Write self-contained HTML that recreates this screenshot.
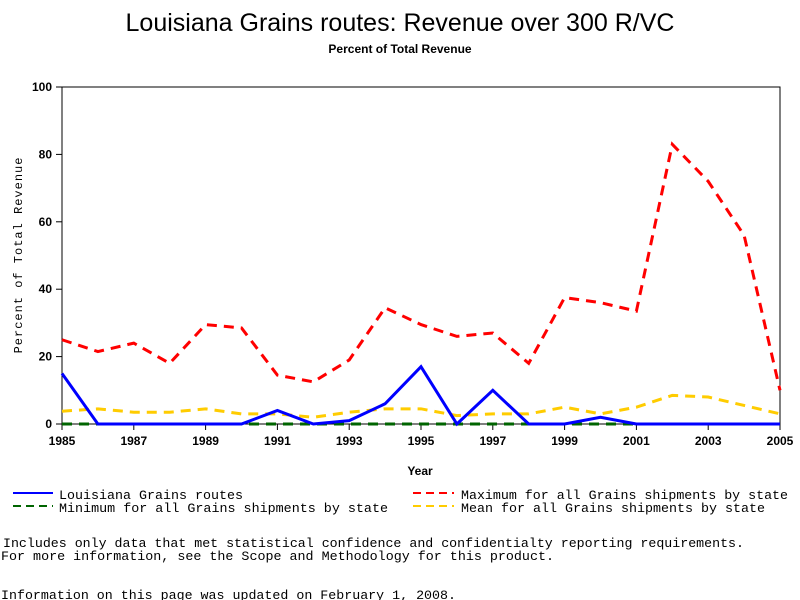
<!DOCTYPE html>
<html><head><meta charset="utf-8"><style>
body{margin:0;background:#fff;width:800px;height:600px;overflow:hidden}
svg{display:block}
text{fill:#000}
.m{font-family:"Liberation Mono",monospace;font-size:13px}
</style></head><body>
<svg id="chart" width="800" height="600" xmlns="http://www.w3.org/2000/svg">
<text x="400" y="31" text-anchor="middle" font-family="Liberation Sans, sans-serif" font-size="25">Louisiana Grains routes: Revenue over 300 R/VC</text>
<text x="400" y="53" text-anchor="middle" font-family="Liberation Sans, sans-serif" font-size="12" font-weight="bold">Percent of Total Revenue</text>
<rect x="62" y="87" width="718" height="337" fill="none" stroke="#000" stroke-width="1"/>
<g id="axes"></g>
<g id="series"></g>
<text x="420" y="475" text-anchor="middle" font-family="Liberation Sans, sans-serif" font-size="12" font-weight="bold">Year</text>
<text transform="translate(22,255) rotate(-90)" text-anchor="middle" font-family="Liberation Mono, monospace" font-size="12" letter-spacing="1">Percent of Total Revenue</text>
<g>
<line x1="13" y1="493" x2="53" y2="493" stroke="#0000ff" stroke-width="2"/>
<text class="m" x="59" y="499" textLength="184" lengthAdjust="spacingAndGlyphs">Louisiana Grains routes</text>
<line x1="13" y1="506" x2="53" y2="506" stroke="#006400" stroke-width="2" stroke-dasharray="8,5"/>
<text class="m" x="59" y="512" textLength="329" lengthAdjust="spacingAndGlyphs">Minimum for all Grains shipments by state</text>
<line x1="413" y1="493" x2="454" y2="493" stroke="#ff0000" stroke-width="2" stroke-dasharray="8,5"/>
<text class="m" x="461" y="499" textLength="327" lengthAdjust="spacingAndGlyphs">Maximum for all Grains shipments by state</text>
<line x1="413" y1="506" x2="454" y2="506" stroke="#ffcc00" stroke-width="2" stroke-dasharray="8,5"/>
<text class="m" x="461" y="512" textLength="304" lengthAdjust="spacingAndGlyphs">Mean for all Grains shipments by state</text>
</g>
<text class="m" x="3" y="547" textLength="741" lengthAdjust="spacingAndGlyphs">Includes only data that met statistical confidence and confidentialty reporting requirements.</text>
<text class="m" x="1" y="560" textLength="553" lengthAdjust="spacingAndGlyphs">For more information, see the Scope and Methodology for this product.</text>
<text class="m" x="1" y="599" textLength="455" lengthAdjust="spacingAndGlyphs">Information on this page was updated on February 1, 2008.</text>
</svg>
<script>
const years=[1985,1986,1987,1988,1989,1990,1991,1992,1993,1994,1995,1996,1997,1998,1999,2000,2001,2002,2003,2004,2005];
const louisiana=[15,0,0,0,0,0,4,0,1,6,17,0,10,0,0,2,0,0,0,0,0];
const maximum=[25,21.5,24,18,29.5,28.5,14.5,12.5,19,34.5,29.5,26,27,18,37.5,36,33.5,83,72,56,10];
const minimum=[0,0,0,0,0,0,0,0,0,0,0,0,0,0,0,0,0,0,0,0,0];
const mean=[3.8,4.5,3.5,3.5,4.5,3,3,2,3.5,4.5,4.5,2.5,3,3,5,3,5,8.5,8,5.5,3];
const xTicks=[1985,1987,1989,1991,1993,1995,1997,1999,2001,2003,2005];
const yTicks=[0,20,40,60,80,100];
const NS="http://www.w3.org/2000/svg";
const X=v=>62+(v-1985)*(718/20);
const Y=v=>424-v*3.37;
const axes=document.getElementById('axes');
function mk(t,a,p){const e=document.createElementNS(NS,t);for(const k in a)e.setAttribute(k,a[k]);p.appendChild(e);return e;}
xTicks.forEach(t=>{
 mk('line',{x1:X(t),y1:424,x2:X(t),y2:430,stroke:'#000'},axes);
 const tx=mk('text',{x:X(t),y:445,'text-anchor':'middle','font-family':'Liberation Sans, sans-serif','font-size':12,'font-weight':'bold'},axes);
 tx.textContent=t;
 
 
});
yTicks.forEach(t=>{
 mk('line',{x1:56,y1:Y(t),x2:62,y2:Y(t),stroke:'#000'},axes);
 const tx=mk('text',{x:52,y:Y(t)+4,'text-anchor':'end','font-family':'Liberation Sans, sans-serif','font-size':12,'font-weight':'bold'},axes);
 tx.textContent=t;
 
 
});
const sg=document.getElementById('series');
function line(vals,color,dash,name){
 const p=mk('polyline',{points:vals.map((v,i)=>X(years[i])+','+Y(v)).join(' '),fill:'none',stroke:color,'stroke-width':3,'stroke-dasharray':dash},sg);
 
 
}
line(mean,'#ffcc00','10,7','series-mean');
line(maximum,'#ff0000','10,7','series-maximum');
line(minimum,'#006400','10,7','series-minimum');
line(louisiana,'#0000ff','none','series-louisiana');
</script>
</body></html>
